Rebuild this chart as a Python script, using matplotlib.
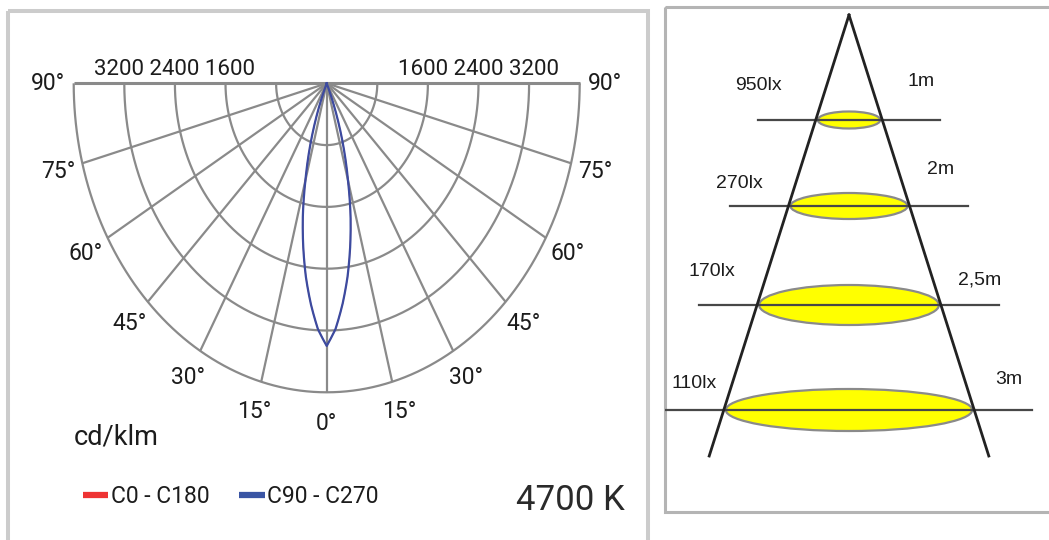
import numpy as np
import matplotlib.pyplot as plt
from matplotlib.lines import Line2D
from matplotlib.patches import Rectangle, Ellipse

# --- light distribution curve (cd/klm) ---
angles = [0, 2.5, 5, 7.5, 10, 12.5, 15, 17.5, 20, 22.5, 24]
c0_c180 = [3400, 3185, 2870, 2525, 2140, 1740, 1300, 920, 550, 200, 0]
c90_c270 = [3400, 3185, 2870, 2525, 2140, 1740, 1300, 920, 550, 200, 0]
rings = [800, 1600, 2400, 3200, 4000]
ring_labels = [1600, 2400, 3200]
spoke_angles = list(range(-90, 91, 15))
label_angles = [0, 15, 30, 45, 60, 75, 90]
series_names = ['C0 - C180', 'C90 - C270']
unit = 'cd/klm'
cct = '4700 K'

# --- illuminance cone ---
distances = ['1m', '2m', '2,5m', '3m']
lux = [950, 270, 170, 110]

# schematic layout of the cone (pixels below apex)
plane_depth = [105, 191, 290, 395]
ell_height = [17, 26, 40, 42]
cone_slope = 0.317
cone_len = 441
lux_pos = [(-91, 71), (-110, 168), (-137, 256), (-155, 368)]
dist_pos = [(72, 66), (92, 154), (131, 265), (160, 364)]

narrow = ['Roboto', 'DejaVu Sans']
grid_c = '#8a8a8a'
txt_c = '#1c1c1c'
red = '#ee3333'
blue = '#3c4ba0'

W, H = 1049, 540
fig = plt.figure(figsize=(W / 100, H / 100), dpi=100)

# frames
bg = fig.add_axes([0, 0, 1, 1])
bg.set_xlim(0, W)
bg.set_ylim(H, 0)
bg.axis('off')
bg.add_patch(Rectangle((8, 11), 640, 600, fill=False, ec='#cccccc', lw=2.9))
bg.add_patch(Rectangle((665, 7), 500, 505, fill=False, ec='#b4b4b4', lw=2.2))

# polar diagram, drawn in cartesian axes (stretched vertically like the source)
cx, cy = 326.7, 83.3
sx, sy = 253 / 4000, 309 / 4000
xl = (-5000, 5000)
yl = (-5500, 1000)
left = cx + xl[0] * sx
top = cy - yl[1] * sy
wpx = (xl[1] - xl[0]) * sx
hpx = (yl[1] - yl[0]) * sy
ax = fig.add_axes([left / W, (H - top - hpx) / H, wpx / W, hpx / H])
ax.set_xlim(*xl)
ax.set_ylim(*yl)
ax.axis('off')


def to_xy(theta, r):
    t = np.radians(theta)
    return np.asarray(r) * np.sin(t), -np.asarray(r) * np.cos(t)


th = np.linspace(-90, 90, 361)
for r in rings:
    x, y = to_xy(th, r)
    ax.plot(x, y, color=grid_c, lw=1.6, solid_capstyle='butt')
for a in spoke_angles:
    x, y = to_xy(a, [0, rings[-1]])
    ax.plot(x, y, color=grid_c, lw=2.2 if abs(a) == 90 else 1.6, solid_capstyle='butt')

fine = np.linspace(0, angles[-1], 200)
full_th = np.concatenate([-fine[::-1], fine[1:]])
for vals, col, lw in [(c0_c180, red, 0.8), (c90_c270, blue, 1.6)]:
    rf = np.interp(fine, angles, vals)
    full_r = np.concatenate([rf[::-1], rf[1:]])
    x, y = to_xy(full_th, full_r)
    ax.plot(x, y, color=col, lw=lw, zorder=5)

for a in label_angles:
    for side in ([1] if a == 0 else [-1, 1]):
        x, y = to_xy(side * a, 4400)
        ax.text(x, y, f'{a}°', ha='center', va='center', fontsize=16.5,
                family=narrow, color=txt_c)

mid = np.mean(ring_labels)
ax.text(-mid, 110, ' '.join(str(v) for v in ring_labels[::-1]), ha='center',
        va='baseline', fontsize=16, family=narrow, color=txt_c)
ax.text(mid, 110, ' '.join(str(v) for v in ring_labels), ha='center',
        va='baseline', fontsize=16, family=narrow, color=txt_c)

ax.text(-4000, -4680, unit, ha='left', va='baseline', fontsize=19.5,
        family=narrow, color=txt_c)
ax.text(4716, -5524, cct, ha='right', va='baseline', fontsize=25,
        family=narrow, color='#2a2a2a')

handles = [Line2D([], [], color=red, lw=4.5, solid_capstyle='butt'),
           Line2D([], [], color='#3a55a4', lw=4.5, solid_capstyle='butt')]
ax.legend(handles, series_names, loc='lower left', bbox_to_anchor=(-4035, -5650),
          bbox_transform=ax.transData, ncol=2, frameon=False, borderpad=0,
          handlelength=1.1, handletextpad=0.12, columnspacing=1.3,
          prop={'family': narrow, 'size': 16.5}, labelcolor=txt_c)

# cone diagram, axes in pixel-like units with apex at origin
apex_x, apex_y = 849, 15
axc = fig.add_axes([665 / W, (H - 512) / H, (W - 665) / W, (512 - 7) / H])
axc.set_xlim(665 - apex_x, W - apex_x)
axc.set_ylim(512 - apex_y, 7 - apex_y)
axc.axis('off')

for side in (-1, 1):
    axc.plot([0, side * cone_slope * cone_len], [0, cone_len], color='#222222',
             lw=2.0, zorder=4)

for i, d in enumerate(plane_depth):
    half = cone_slope * d
    axc.add_patch(Ellipse((0, d), 2 * half - 4, ell_height[i], fc='#ffff00',
                          ec='#8a8a8a', lw=1.6, zorder=2))
    axc.plot([-half - 58, half + 58], [d, d], color='#474747', lw=1.6, zorder=3)
    axc.text(lux_pos[i][0], lux_pos[i][1], f'{lux[i]}lx', ha='center', va='center',
             fontsize=14, family='Liberation Sans', color=txt_c)
    axc.text(dist_pos[i][0], dist_pos[i][1], distances[i], ha='center', va='center',
             fontsize=14, family='Liberation Sans', color=txt_c)

fig.savefig('out.png', dpi=100)
